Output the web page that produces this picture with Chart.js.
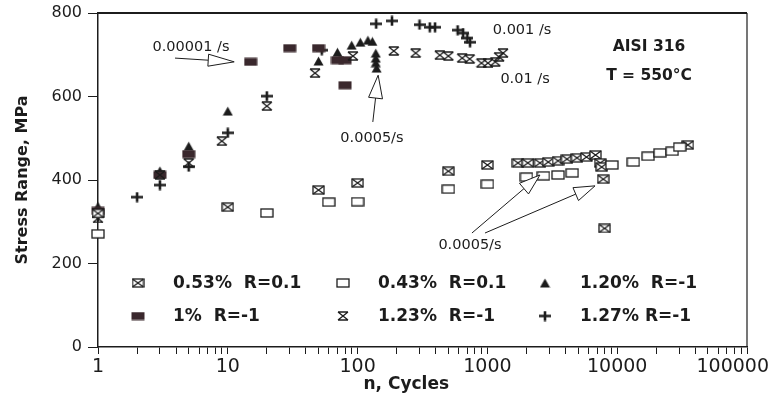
<!DOCTYPE html>
<html>
<head>
<meta charset="utf-8">
<script src="https://cdn.jsdelivr.net/npm/chart.js@4.4.0/dist/chart.umd.min.js"></script>
<style>
  html, body { margin: 0; padding: 0; background: #fff; }
</style>
</head>
<body>
<canvas id="grafico" width="777" height="402"></canvas>
<script>
// --- data (n in cycles, stress range in MPa) ---
const seriesLabels = ['0.53%  R=0.1', '0.43%  R=0.1', '1.20%  R=-1', '1%  R=-1', '1.23%  R=-1', '1.27% R=-1'];

const n053 = [1, 10, 50, 100, 500, 1000, 1720, 2050, 2540, 2940, 3500, 4100, 4900, 5800, 6800, 7400, 7600, 7800, 8000, 35000];
const s053 = [320, 335, 376, 393, 421, 436, 441, 441, 441, 443, 446, 450, 453, 455, 460, 441, 431, 402, 284, 484];

const n043 = [1, 20, 60, 100, 500, 1000, 2000, 2700, 3500, 4500, 9100, 13300, 17300, 21400, 26500, 30300];
const s043 = [271, 321, 347, 348, 378, 390, 407, 410, 412, 417, 436, 443, 457, 465, 469, 479];

const n120 = [1, 3, 5, 10, 50, 70, 90, 105, 120, 130, 138, 138, 138, 140];
const s120 = [337, 422, 481, 565, 685, 706, 723, 730, 735, 732, 704, 692, 681, 668];

const n100 = [1, 3, 5, 15, 30, 50, 70, 80, 80];
const s100 = [326, 412, 462, 683, 716, 716, 687, 687, 627];

const n123 = [1, 3, 5, 9, 20, 47, 92, 190, 280, 430, 500, 640, 730, 900, 1010, 1150, 1230, 1320];
const s123 = [308, 412, 441, 493, 577, 656, 697, 709, 704, 699, 697, 692, 690, 680, 680, 683, 695, 704];

const n127 = [1, 2, 3, 5, 10, 20, 53, 139, 184, 300, 360, 395, 590, 650, 700, 735];
const s127 = [312, 359, 388, 432, 513, 601, 711, 774, 781, 772, 766, 766, 759, 752, 740, 730];

const xTickLabels = [1, 10, 100, 1000, 10000, 100000];
const minorSteps = [1, 2, 3, 4, 5, 6, 7, 8, 9];

// annotation texts [text, n, stress, bold]
const notes = [
  ['0.00001 /s', 5.2, 719, false],
  ['0.0005/s', 129, 500, false],
  ['0.001 /s', 1850, 759, false],
  ['0.01 /s', 1950, 641, false],
  ['0.0005/s', 734, 244, false],
  ['AISI 316', 17600, 718, true],
  ['T = 550°C', 17600, 650, true]
];
// arrows [nFrom, sFrom, nTo, sTo, headLen, headHalf]
const arrows = [
  [3.92, 692, 11.2, 683, 26, 6],
  [131, 539, 144, 651, 23, 7],
  [760, 273, 2540, 412, 21, 7],
  [958, 273, 6750, 386, 21, 7]
];

const INK = '#1c1c1c';

function makeMarker(w, h, draw) {
  const c = document.createElement('canvas');
  c.width = w;
  c.height = h;
  const g = c.getContext('2d');
  g.strokeStyle = INK;
  g.fillStyle = INK;
  g.lineWidth = 1.3;
  draw(g, w, h);
  return c;
}

const crossBox = makeMarker(13, 10, (g, w, h) => {
  g.fillStyle = '#fff';
  g.fillRect(1, 1, w - 2, h - 2);
  g.strokeRect(1, 1, w - 2, h - 2);
  g.beginPath();
  g.moveTo(1, 1); g.lineTo(w - 1, h - 1);
  g.moveTo(w - 1, 1); g.lineTo(1, h - 1);
  g.stroke();
});
const openBox = makeMarker(14, 10, (g, w, h) => {
  g.fillStyle = '#fff';
  g.fillRect(1, 1, w - 2, h - 2);
  g.strokeRect(1, 1, w - 2, h - 2);
});
const filledBox = makeMarker(14, 9, (g, w, h) => {
  g.fillStyle = '#3a282d';
  g.fillRect(0.5, 0.5, w - 1, h - 1);
});
const triangle = makeMarker(11, 10, (g, w, h) => {
  g.beginPath();
  g.moveTo(w / 2, 0.5); g.lineTo(w - 0.5, h - 0.5); g.lineTo(0.5, h - 0.5);
  g.closePath();
  g.fill();
});
const hourglass = makeMarker(12, 10, (g, w, h) => {
  g.beginPath();
  g.moveTo(1, 1); g.lineTo(w - 1, 1);
  g.moveTo(1, h - 1); g.lineTo(w - 1, h - 1);
  g.moveTo(1, 1); g.lineTo(w - 1, h - 1);
  g.moveTo(w - 1, 1); g.lineTo(1, h - 1);
  g.stroke();
});
const plus = makeMarker(12, 11, (g, w, h) => {
  g.lineWidth = 2.6;
  g.beginPath();
  g.moveTo(0, h / 2); g.lineTo(w, h / 2);
  g.moveTo(w / 2, 0.5); g.lineTo(w / 2, h - 0.5);
  g.stroke();
});

const markers = [crossBox, openBox, triangle, filledBox, hourglass, plus];

function puntos(ns, ss) {
  return ns.map((n, i) => ({ x: n, y: ss[i] }));
}

function serie(label, ns, ss, marker) {
  return {
    label: label,
    data: puntos(ns, ss),
    pointStyle: marker,
    pointRadius: 5,
    showLine: false,
    clip: false
  };
}

// drawn back to front
const datasets = [
  serie(seriesLabels[1], n043, s043, openBox),
  serie(seriesLabels[0], n053, s053, crossBox),
  serie(seriesLabels[4], n123, s123, hourglass),
  serie(seriesLabels[3], n100, s100, filledBox),
  serie(seriesLabels[2], n120, s120, triangle),
  serie(seriesLabels[5], n127, s127, plus)
];

function drawArrow(ctx, x1, y1, x2, y2, headLen, headHalf) {
  const ang = Math.atan2(y2 - y1, x2 - x1);
  const bx = x2 - headLen * Math.cos(ang);
  const by = y2 - headLen * Math.sin(ang);
  ctx.beginPath();
  ctx.moveTo(x1, y1);
  ctx.lineTo(bx, by);
  ctx.stroke();
  const px = -Math.sin(ang) * headHalf;
  const py = Math.cos(ang) * headHalf;
  ctx.beginPath();
  ctx.moveTo(x2, y2);
  ctx.lineTo(bx + px, by + py);
  ctx.lineTo(bx - px, by - py);
  ctx.closePath();
  ctx.fillStyle = '#fff';
  ctx.fill();
  ctx.stroke();
}

const extras = {
  id: 'extras',
  afterDraw(chart) {
    const ctx = chart.ctx;
    const area = chart.chartArea;
    const xs = chart.scales.x;
    const ys = chart.scales.y;
    ctx.save();

    // frame top and right
    ctx.strokeStyle = INK;
    ctx.lineWidth = 2;
    ctx.beginPath();
    ctx.moveTo(area.left, area.top);
    ctx.lineTo(area.right, area.top);
    ctx.stroke();
    ctx.lineWidth = 1.2;
    ctx.beginPath();
    ctx.moveTo(area.right, area.top);
    ctx.lineTo(area.right, area.bottom);
    ctx.stroke();

    // x tick labels (last one kept inside the canvas)
    ctx.fillStyle = INK;
    ctx.font = '19px "DejaVu Sans"';
    ctx.textAlign = 'center';
    ctx.textBaseline = 'middle';
    xTickLabels.forEach(v => {
      const txt = String(v);
      const w = ctx.measureText(txt).width;
      let px = xs.getPixelForValue(v);
      px = Math.min(px, chart.width - 8 - w / 2);
      ctx.fillText(txt, px, area.bottom + 20);
    });

    // x title, sits a bit left of the axis centre in the original
    ctx.font = 'bold 17px "DejaVu Sans"';
    ctx.fillText('n, Cycles', area.left + (area.right - area.left) * 0.475, area.bottom + 38);

    // annotations
    notes.forEach(([txt, n, s, bold]) => {
      ctx.font = bold ? 'bold 15.5px "DejaVu Sans"' : '14.5px "DejaVu Sans"';
      ctx.fillText(txt, xs.getPixelForValue(n), ys.getPixelForValue(s));
    });
    ctx.lineWidth = 1;
    arrows.forEach(([n1, s1, n2, s2, hl, hh]) => {
      drawArrow(ctx, xs.getPixelForValue(n1), ys.getPixelForValue(s1),
        xs.getPixelForValue(n2), ys.getPixelForValue(s2), hl, hh);
    });

    // legend, 2 rows x 3 columns inside the plot
    const markerX = [40, 245, 447];
    const textX = [75, 280, 482];
    const rowY = [270, 303];
    ctx.font = 'bold 17px "DejaVu Sans"';
    ctx.textAlign = 'left';
    ctx.fillStyle = INK;
    seriesLabels.forEach((lab, i) => {
      const col = i % 3;
      const row = Math.floor(i / 3);
      const m = markers[i];
      const y = area.top + rowY[row];
      ctx.drawImage(m, area.left + markerX[col] - m.width / 2, y - m.height / 2);
      ctx.fillText(lab, area.left + textX[col], y + 1);
    });
    ctx.restore();
  }
};

Chart.defaults.font.family = '"DejaVu Sans"';
Chart.defaults.color = INK;

new Chart(document.getElementById('grafico').getContext('2d'), {
  type: 'scatter',
  data: { datasets: datasets },
  plugins: [extras],
  options: {
    responsive: false,
    animation: false,
    layout: { padding: { top: 13, right: 30, left: 0, bottom: 0 } },
    plugins: {
      legend: { display: false },
      tooltip: { enabled: false }
    },
    scales: {
      x: {
        type: 'logarithmic',
        min: 1,
        max: 100000,
        border: { display: true, color: INK, width: 1.5 },
        grid: { drawOnChartArea: false, drawTicks: true, tickLength: 7, color: INK },
        ticks: { display: false, autoSkip: false },
        afterBuildTicks: scale => {
          const ticks = [];
          xTickLabels.forEach(d => {
            minorSteps.forEach(m => {
              if (d * m <= 100000) ticks.push({ value: d * m });
            });
          });
          scale.ticks = ticks;
        },
        title: { display: false },
        afterFit: s => { s.height = 55; s.paddingLeft = 0; s.paddingRight = 0; }
      },
      y: {
        min: 0,
        max: 800,
        border: { display: true, color: INK, width: 1.5 },
        grid: { drawOnChartArea: false, drawTicks: true, tickLength: 10, color: INK },
        ticks: { stepSize: 200, padding: 6, font: { size: 16 } },
        title: {
          display: true,
          text: 'Stress Range, MPa',
          font: { size: 16, weight: 'bold' },
          padding: { top: 13, bottom: 0 }
        },
        afterFit: s => { s.width = 98; s.paddingTop = 0; s.paddingBottom = 0; }
      }
    }
  }
});
</script>
</body>
</html>
